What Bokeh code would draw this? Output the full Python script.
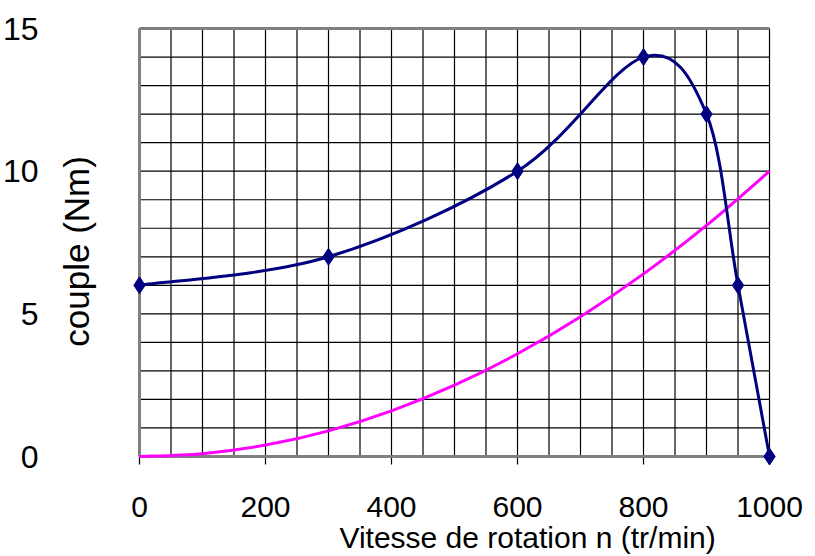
import numpy as np
from bokeh.plotting import figure
from bokeh.models import Range1d, Label
from bokeh.core.properties import value
from bokeh.embed import file_html
from bokeh.resources import INLINE

# ---- data ----
speed = [0, 300, 600, 800, 900, 950, 1000]
motor_torque = [6.0, 7.0, 10.0, 14.0, 12.0, 6.0, 0.0]

load_speed = [0, 100, 200, 300, 400, 500, 600, 700, 800, 900, 1000]
load_torque = [0.0, 0.1, 0.4, 0.9, 1.6, 2.5, 3.6, 4.9, 6.4, 8.1, 10.0]

x_ticks = [0, 200, 400, 600, 800, 1000]
x_tick_labels = ["0", "200", "400", "600", "800", "1000"]
y_ticks = [0, 5, 10, 15]
y_tick_labels = ["0", "5", "10", "15"]
x_grid = list(range(0, 1001, 50))
y_grid = list(range(0, 16))

x_title = "Vitesse de rotation n (tr/min)"
y_title = "couple (Nm)"

FONT = "Liberation Sans"


def smooth_segments(xs, ys):
    """Cubic Bezier segments through the points (spreadsheet-style smoothing)."""
    x = [xs[0]] + list(xs) + [xs[-1]]
    y = [ys[0]] + list(ys) + [ys[-1]]
    n = len(xs)
    seg = dict(x0=[], y0=[], x1=[], y1=[], cx0=[], cy0=[], cx1=[], cy1=[])
    for i in range(n - 1):
        k = i + 1
        seg["x0"].append(x[k]); seg["y0"].append(y[k])
        seg["x1"].append(x[k + 1]); seg["y1"].append(y[k + 1])
        seg["cx0"].append(x[k] + (x[k + 1] - x[k - 1]) / 6.0)
        seg["cy0"].append(y[k] + (y[k + 1] - y[k - 1]) / 6.0)
        seg["cx1"].append(x[k + 1] - (x[k + 2] - x[k]) / 6.0)
        seg["cy1"].append(y[k + 1] - (y[k + 2] - y[k]) / 6.0)
    return seg


# the plotting frame covers the whole canvas; axes are drawn as marks and texts
p = figure(width=815, height=556, output_backend="svg", toolbar_location=None,
           x_axis_location=None, y_axis_location=None,
           x_range=Range1d(-220.63, 1073.0), y_range=Range1d(-3.505, 15.983),
           min_border=0)
p.outline_line_color = None
p.background_fill_color = "white"
p.border_fill_color = "white"
p.xgrid.grid_line_color = None
p.ygrid.grid_line_color = None
p.xgrid.visible = False
p.ygrid.visible = False

# grid
p.segment(x0=x_grid, y0=y_grid[0], x1=x_grid, y1=y_grid[-1], line_color="black", line_width=1.2)
p.segment(x0=x_grid[0], y0=y_grid, x1=x_grid[-1], y1=y_grid, line_color="black", line_width=1.2)

# x tick marks (below the zero line)
p.segment(x0=x_ticks, y0=0, x1=x_ticks, y1=-0.28, line_color="black", line_width=1.2)

# plot-area border (left, top, bottom)
p.segment(x0=[x_grid[0], x_grid[0], x_grid[0]],
          y0=[y_grid[0], y_grid[-1], y_grid[0]],
          x1=[x_grid[0], x_grid[-1], x_grid[-1]],
          y1=[y_grid[-1], y_grid[-1], y_grid[0]],
          line_color="#808080", line_width=3)

# load torque curve (magenta)
ls = smooth_segments(load_speed, load_torque)
p.bezier(x0=ls["x0"], y0=ls["y0"], x1=ls["x1"], y1=ls["y1"],
         cx0=ls["cx0"], cy0=ls["cy0"], cx1=ls["cx1"], cy1=ls["cy1"],
         line_color="#FF00FF", line_width=3)

# motor torque curve (navy)
ms = smooth_segments(speed, motor_torque)
p.bezier(x0=ms["x0"], y0=ms["y0"], x1=ms["x1"], y1=ms["y1"],
         cx0=ms["cx0"], cy0=ms["cy0"], cx1=ms["cx1"], cy1=ms["cy1"],
         line_color="#000080", line_width=3)
p.scatter(speed, motor_torque, marker="diamond", size=17,
          fill_color="#000080", line_color="#000080")

# x tick labels
p.text(x=x_ticks, y=-1.753, text=x_tick_labels, text_align="center",
       text_baseline="middle", text_font=value(FONT), text_font_size="30px",
       text_color="black")

# y tick labels
p.text(x=-160.3, y=y_ticks, text=y_tick_labels, text_align="right",
       text_baseline="middle", text_font=value(FONT), text_font_size="32px",
       text_color="black")

# axis titles
p.add_layout(Label(x=616, y=-2.85, x_units="data", y_units="data", text=x_title,
                   text_align="center", text_baseline="middle",
                   text_font=FONT, text_font_size="30px", text_color="black"))
p.add_layout(Label(x=-100.5, y=7.19, x_units="data", y_units="data", text=y_title,
                   angle=np.pi / 2, text_align="center", text_baseline="middle",
                   text_font=FONT, text_font_size="35px", text_color="black"))

open("out.html", "w").write(file_html(p, INLINE))
